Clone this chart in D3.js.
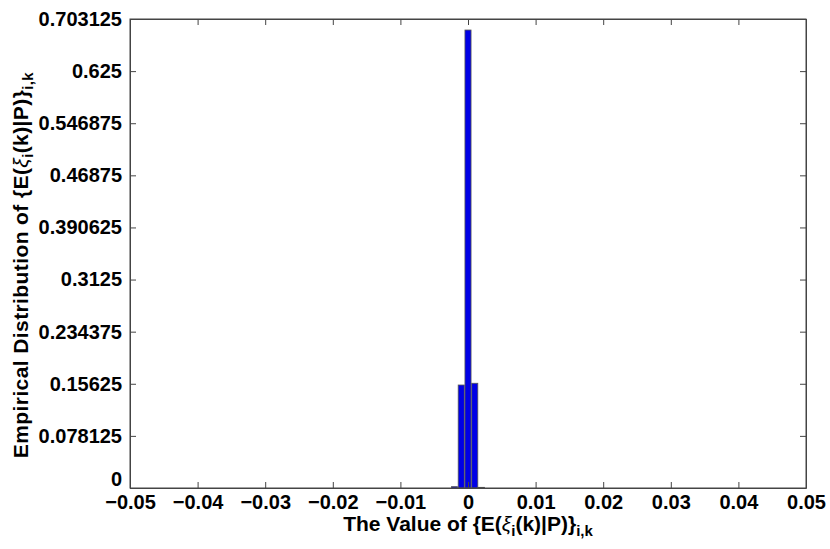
<!DOCTYPE html>
<html>
<head>
<meta charset="utf-8">
<script src="https://cdn.jsdelivr.net/npm/d3@7"></script>
<style>
  body { margin: 0; background: #fff; }
  svg text { font-family: "Liberation Sans", Arial, sans-serif; font-weight: bold; fill: #000; }
</style>
</head>
<body>
<svg id="chart"></svg>
<script>
// histogram bins (centers) and their relative frequencies
const binCenters = [-0.002, -0.001, 0, 0.001, 0.002];
const binValues = [0.002, 0.1544, 0.6866, 0.157, 0.001];
const binWidth = 0.001;

const xTicks = [-0.05, -0.04, -0.03, -0.02, -0.01, 0, 0.01, 0.02, 0.03, 0.04, 0.05];
const xTickLabels = ["\u22120.05", "\u22120.04", "\u22120.03", "\u22120.02", "\u22120.01", "0", "0.01", "0.02", "0.03", "0.04", "0.05"];
const yTicks = [0, 0.078125, 0.15625, 0.234375, 0.3125, 0.390625, 0.46875, 0.546875, 0.625, 0.703125];
const yTickLabels = ["0", "0.078125", "0.15625", "0.234375", "0.3125", "0.390625", "0.46875", "0.546875", "0.625", "0.703125"];

const W = 830, H = 549;
const margin = {top: 19, right: 24, bottom: 61, left: 130};
const width = W - margin.left - margin.right;
const height = H - margin.top - margin.bottom;

const svg = d3.select("#chart").attr("width", W).attr("height", H);
const g = svg.append("g").attr("transform", `translate(${margin.left},${margin.top})`);

const x = d3.scaleLinear().domain([-0.05, 0.05]).range([0, width]);
const y = d3.scaleLinear().domain([0, 0.703125]).range([height, 0]);

// bars
g.selectAll(".bar")
  .data(binCenters.map((c, i) => ({c, v: binValues[i]})))
  .enter().append("rect")
  .attr("class", "bar")
  .attr("x", d => x(d.c - binWidth * 0.45))
  .attr("width", d => x(d.c + binWidth * 0.45) - x(d.c - binWidth * 0.45))
  .attr("y", d => y(d.v))
  .attr("height", d => y(0) - y(d.v))
  .attr("fill", "#0000e6")
  .attr("stroke", "#555")
  .attr("stroke-width", 0.8);

const tickLen = 6;

// bottom axis, ticks inward
const xAxis = d3.axisBottom(x).tickValues(xTicks)
  .tickFormat((d, i) => xTickLabels[i])
  .tickSizeInner(-tickLen).tickSizeOuter(0).tickPadding(7);
const gx = g.append("g").attr("transform", `translate(0,${height})`).call(xAxis);
gx.selectAll("text").style("font-size", "20px");

// top axis ticks
g.append("g").call(d3.axisTop(x).tickValues(xTicks).tickFormat("")
  .tickSizeInner(-tickLen).tickSizeOuter(0));

// left axis
const yAxis = d3.axisLeft(y).tickValues(yTicks)
  .tickFormat((d, i) => yTickLabels[i])
  .tickSizeInner(-tickLen).tickSizeOuter(0).tickPadding(8);
const gy = g.append("g").call(yAxis);
gy.selectAll("text").style("font-size", "20px");
// the "0" sits a little higher so it clears the x tick labels
gy.selectAll(".tick").filter(d => d === 0).select("text").attr("dy", "-0.12em");

// right axis ticks
g.append("g").attr("transform", `translate(${width},0)`)
  .call(d3.axisRight(y).tickValues(yTicks).tickFormat("")
  .tickSizeInner(-tickLen).tickSizeOuter(0));

g.selectAll(".domain").attr("stroke", "#444");
g.selectAll(".tick line").attr("stroke", "#444");

// box
g.append("rect").attr("width", width).attr("height", height)
  .attr("fill", "none").attr("stroke", "#444").attr("stroke-width", 1);

// x label
const xl = svg.append("text")
  .attr("x", margin.left + width / 2)
  .attr("y", 531)
  .attr("text-anchor", "middle")
  .style("font-size", "21px");
xl.append("tspan").text("The Value of {E(");
xl.append("tspan").text("\u03BE").style("font-style", "italic").style("font-weight", "normal");
xl.append("tspan").text("i").attr("baseline-shift", "-30%").style("font-size", "15px");
xl.append("tspan").text("(k)|P)}");
xl.append("tspan").text("i,k").attr("baseline-shift", "-35%").style("font-size", "15px");

// y label
const yl = svg.append("text")
  .attr("transform", `translate(28,265) rotate(-90)`)
  .attr("text-anchor", "middle")
  .style("font-size", "21px")
  .style("letter-spacing", "0.4px");
yl.append("tspan").text("Empirical Distribution of {E(");
yl.append("tspan").text("\u03BE").style("font-style", "italic").style("font-weight", "normal");
yl.append("tspan").text("i").attr("baseline-shift", "-30%").style("font-size", "15px");
yl.append("tspan").text("(k)|P)}");
yl.append("tspan").text("i,k").attr("baseline-shift", "-35%").style("font-size", "15px");
</script>
</body>
</html>
